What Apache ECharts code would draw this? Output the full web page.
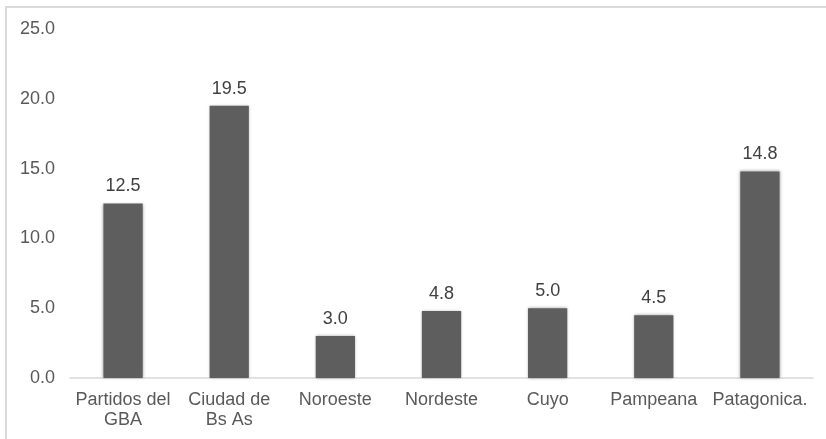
<!DOCTYPE html>
<html>
<head>
<meta charset="utf-8">
<script src="https://cdn.jsdelivr.net/npm/echarts@6/dist/echarts.min.js"></script>
<style>
html, body { margin: 0; padding: 0; background: #ffffff; }
#chart { width: 826px; height: 439px; }
</style>
</head>
<body>
<div id="chart"></div>
<script>
// Regions and their values
const regions = ['Partidos del\nGBA', 'Ciudad de\nBs As', 'Noroeste', 'Nordeste', 'Cuyo', 'Pampeana', 'Patagonica.'];
const values = [12.5, 19.5, 3.0, 4.8, 5.0, 4.5, 14.8];

const textColor = '#595959';
const fontFamily = 'Liberation Sans, Arial, sans-serif';

const chart = echarts.init(document.getElementById('chart'));
chart.setOption({
  animation: false,
  backgroundColor: '#ffffff',
  graphic: [
    {
      type: 'polyline',
      shape: { points: [[6, 460], [6, 7], [830, 7]] },
      style: { stroke: '#d9d9d9', lineWidth: 2, fill: null }
    }
  ],
  grid: { left: 70, right: 13, top: 29, bottom: 61 },
  xAxis: {
    type: 'category',
    data: regions,
    axisLine: { lineStyle: { color: '#d9d9d9', width: 1.5 } },
    axisTick: { show: false },
    axisLabel: {
      color: textColor,
      fontSize: 18,
      fontFamily: fontFamily,
      margin: 12,
      lineHeight: 20,
      interval: 0
    }
  },
  yAxis: {
    type: 'value',
    min: 0,
    max: 25,
    interval: 5,
    axisLine: { show: false },
    axisTick: { show: false },
    splitLine: { show: false },
    axisLabel: {
      color: textColor,
      fontSize: 18,
      fontFamily: fontFamily,
      margin: 15,
      formatter: v => v.toFixed(1)
    }
  },
  series: [{
    type: 'bar',
    data: values,
    barWidth: '37%',
    itemStyle: { color: '#5e5e5e', shadowColor: 'rgba(94,94,94,0.6)', shadowBlur: 3 },
    label: {
      show: true,
      position: 'top',
      distance: 8,
      color: '#404040',
      fontSize: 18,
      fontFamily: fontFamily,
      formatter: p => p.value.toFixed(1)
    }
  }]
});
</script>
</body>
</html>
